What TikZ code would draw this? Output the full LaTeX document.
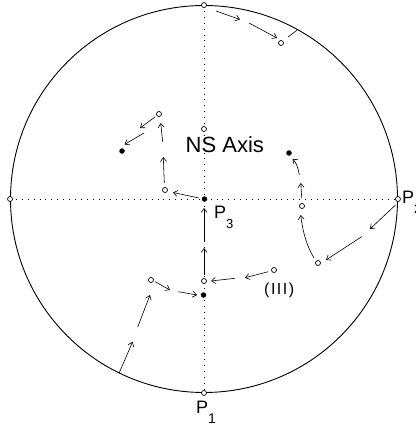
\documentclass[tikz,border=0pt]{standalone}
\usepackage{fontspec}
\setmainfont{Liberation Sans}
\usetikzlibrary{arrows.meta}
\begin{document}
\begin{tikzpicture}[x=1pt,y=-1pt,
  arr/.style={line width=0.6pt,-{Straight Barb[length=4pt,width=6pt]}},
  opendot/.style={circle,draw,line width=0.7pt,fill=white,inner sep=0pt,minimum size=5pt},
  fulldot/.style={circle,fill=black,inner sep=0pt,minimum size=5.5pt},
  axis/.style={line width=1pt,dash pattern=on 0.9pt off 5pt},
  lbl/.style={inner sep=0pt,font=\fontsize{18}{18}\selectfont},
  subs/.style={font=\fontsize{13}{13}\selectfont}]
\useasboundingbox (0,0) rectangle (415,425);
% outer circle
\node[circle,draw,line width=0.9pt,minimum size=387pt,inner sep=0pt] (rim) at (204,199) {};
% axes
\draw[axis] (rim.west) -- (rim.east);
\draw[axis] (rim.north) -- (rim.south);
% label NS Axis
\node[inner sep=0.5pt,fill=white,font=\fontsize{22}{22}\selectfont,anchor=base west] (nstext) at (185,152) {NS Axis};
% points
\node[opendot] (top) at (rim.north) {};
\node[opendot] (left) at (rim.west) {};
\node[opendot] (right) at (rim.east) {};
\node[opendot] (bottom) at (rim.south) {};
\node[fulldot] (p3) at (204.5,199) {};
\node[opendot] (ns) at (204,129) {};
\node[opendot] (a1) at (281,43) {};
\node[opendot] (b1) at (159,114) {};
\node[fulldot] (b2) at (122,151) {};
\node[opendot] (b3) at (165,190) {};
\node[fulldot] (c1) at (289,153) {};
\node[opendot] (c2) at (302,206) {};
\node[opendot] (c3) at (318,263) {};
\node[opendot] (d1) at (274,270) {};
\node[opendot] (d2) at (204,281) {};
\node[fulldot] (d3) at (203.5,295) {};
\node[opendot] (d4) at (151,280) {};
% labels
\node[lbl,anchor=base west] (lp1) at (196,413) {P\raisebox{-10pt}{\fontsize{14}{14}\selectfont 1}};
\node[lbl,anchor=base west] (lp2) at (402,203) {P\raisebox{-10pt}{\fontsize{13}{13}\selectfont 2}};
\node[lbl,anchor=base west] (lp3) at (214,218) {P\raisebox{-10pt}{\fontsize{13}{13}\selectfont 3}};
\node[inner sep=0pt,anchor=base west,font=\fontsize{16}{16}\selectfont] (liii) at (264,294) {(\kern1.5pt I\kern1.5pt I\kern1.5pt I\kern1.5pt)};
% top-right track
\draw[arr] (216,11) -- (240,19.5);
\draw[arr] (249,23) -- (277,38);
\draw[line width=0.6pt] (rim.61) -- (288,37);
% upper-left track
\draw[arr] (199,198) -- (173,192.5);
\draw[arr] (164.3,183) -- (163.3,157);
\draw[arr] (162.7,142) -- (160.7,123);
\draw[arr] (155,117) -- (140,128);
\draw[arr] (144,133) -- (124.5,144.5);
% right track
\draw[arr] (395.5,205) -- (370,229);
\draw[arr] (361.7,236.7) -- (326,260);
\draw[arr] (314,258) .. controls (306,245) and (302,228) .. (300.8,215);
\draw[arr] (301.7,198) -- (300.8,183);
\draw[arr] (299.3,175) .. controls (298,167) and (296,162) .. (292.5,159);
% lower track
\draw[arr] (268.3,271.7) -- (245,277.7);
\draw[arr] (235,278.3) -- (211,281);
\draw[arr] (204,275) -- (204,248);
\draw[arr] (204,242) -- (204,208);
% lower-left track
\draw[arr] (rim.244) -- (132.7,341.7);
\draw[arr] (137.7,327) -- (150,295);
\draw[arr] (155,281.7) -- (170,290);
\draw[arr] (178.3,291.7) -- (197,295);
\end{tikzpicture}
\end{document}
